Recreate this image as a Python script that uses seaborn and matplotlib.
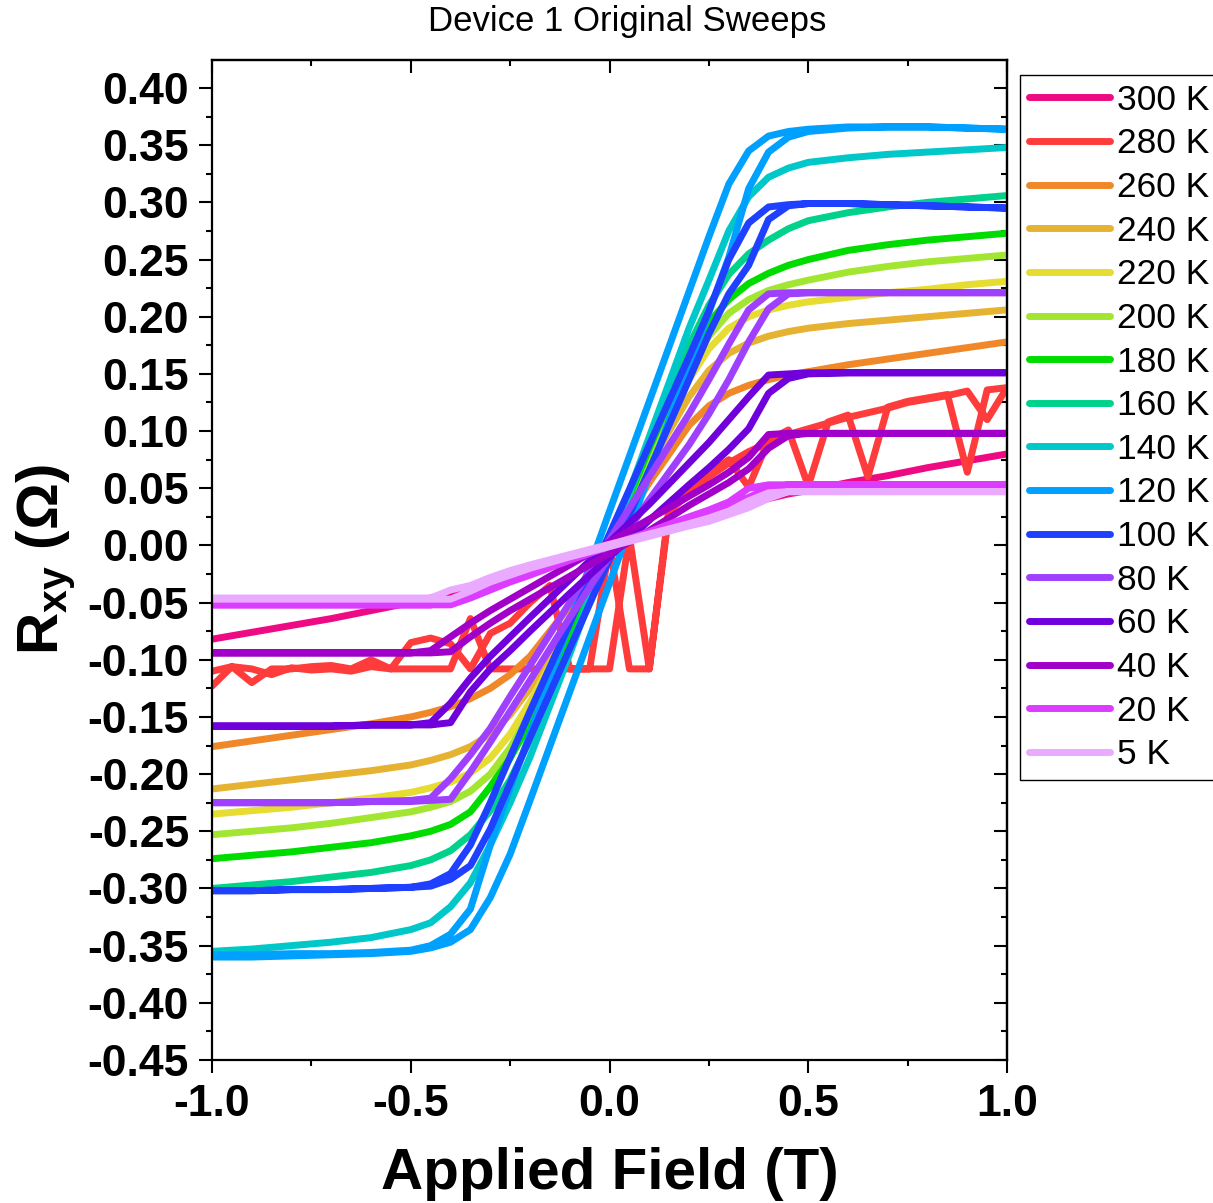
import matplotlib
matplotlib.use("Agg")
import matplotlib.pyplot as plt
import seaborn as sns
from matplotlib.ticker import MultipleLocator, FormatStrFormatter

# ---------------------------------------------------------------- data
# Applied field grid (T) shared by the smooth and hysteretic sweeps
field = [-1.0, -0.9, -0.8, -0.7, -0.6, -0.5, -0.45, -0.4, -0.35, -0.3, -0.25, -0.2, -0.1,
         0.0, 0.1, 0.2, 0.25, 0.3, 0.35, 0.4, 0.45, 0.5, 0.6, 0.7, 0.8, 0.9, 1.0]

# High-temperature sweeps (no visible hysteresis), Rxy in ohm
rxy_300 = [-0.082, -0.076, -0.070, -0.064, -0.057, -0.050, -0.046, -0.042, -0.038, -0.033, -0.028, -0.022, -0.011,
           0.000, 0.011, 0.022, 0.027, 0.032, 0.037, 0.041, 0.045, 0.048, 0.055, 0.061, 0.068, 0.074, 0.080]
rxy_260 = [-0.176, -0.171, -0.166, -0.161, -0.156, -0.150, -0.146, -0.141, -0.134, -0.125, -0.113, -0.097, -0.053,
           0.000, 0.055, 0.105, 0.122, 0.133, 0.140, 0.145, 0.149, 0.152, 0.158, 0.163, 0.168, 0.173, 0.178]
rxy_240 = [-0.213, -0.209, -0.205, -0.201, -0.197, -0.192, -0.188, -0.183, -0.176, -0.165, -0.148, -0.125, -0.068,
           0.000, 0.070, 0.130, 0.153, 0.168, 0.177, 0.183, 0.187, 0.190, 0.194, 0.197, 0.200, 0.203, 0.206]
rxy_220 = [-0.235, -0.232, -0.229, -0.225, -0.221, -0.216, -0.212, -0.207, -0.199, -0.186, -0.165, -0.137, -0.072,
           0.000, 0.075, 0.145, 0.172, 0.190, 0.200, 0.206, 0.210, 0.213, 0.217, 0.221, 0.224, 0.228, 0.231]
rxy_200 = [-0.253, -0.250, -0.247, -0.243, -0.238, -0.233, -0.229, -0.224, -0.215, -0.200, -0.177, -0.147, -0.077,
           0.000, 0.080, 0.155, 0.183, 0.203, 0.215, 0.223, 0.228, 0.232, 0.239, 0.244, 0.248, 0.251, 0.254]
rxy_180 = [-0.274, -0.271, -0.268, -0.264, -0.260, -0.254, -0.250, -0.244, -0.233, -0.211, -0.186, -0.155, -0.080,
           0.000, 0.085, 0.165, 0.195, 0.215, 0.229, 0.238, 0.245, 0.250, 0.258, 0.263, 0.267, 0.270, 0.273]
rxy_160 = [-0.300, -0.297, -0.294, -0.290, -0.286, -0.280, -0.275, -0.267, -0.253, -0.232, -0.205, -0.170, -0.090,
           0.000, 0.090, 0.175, 0.210, 0.237, 0.255, 0.267, 0.277, 0.284, 0.291, 0.296, 0.300, 0.303, 0.306]
rxy_140 = [-0.355, -0.353, -0.350, -0.347, -0.343, -0.336, -0.330, -0.316, -0.295, -0.262, -0.225, -0.185, -0.095,
           0.000, 0.095, 0.190, 0.232, 0.275, 0.305, 0.322, 0.330, 0.335, 0.339, 0.342, 0.344, 0.346, 0.348]

# Low-temperature sweeps: up sweep (-1 -> +1 T) and down sweep (+1 -> -1 T), both listed on `field`
rxy_120_up = [-0.360, -0.360, -0.359, -0.358, -0.357, -0.355, -0.352, -0.347, -0.336, -0.308, -0.270, -0.223, -0.128,
              -0.033, 0.062, 0.157, 0.204, 0.252, 0.312, 0.344, 0.357, 0.362, 0.365, 0.366, 0.366, 0.365, 0.364]
rxy_120_dn = [-0.358, -0.358, -0.357, -0.357, -0.356, -0.354, -0.350, -0.340, -0.318, -0.262, -0.212, -0.165, -0.067,
              0.030, 0.126, 0.222, 0.270, 0.316, 0.345, 0.358, 0.362, 0.364, 0.366, 0.366, 0.366, 0.365, 0.364]
rxy_100_up = [-0.302, -0.302, -0.301, -0.301, -0.300, -0.299, -0.298, -0.292, -0.280, -0.248, -0.208, -0.168, -0.090,
              -0.012, 0.066, 0.145, 0.185, 0.220, 0.245, 0.285, 0.297, 0.299, 0.299, 0.298, 0.297, 0.296, 0.295]
rxy_100_dn = [-0.302, -0.302, -0.301, -0.301, -0.300, -0.299, -0.296, -0.287, -0.262, -0.225, -0.185, -0.145, -0.068,
              0.010, 0.088, 0.165, 0.205, 0.250, 0.282, 0.296, 0.298, 0.299, 0.299, 0.298, 0.297, 0.296, 0.295]
rxy_80_up = [-0.225, -0.225, -0.225, -0.225, -0.224, -0.224, -0.223, -0.222, -0.198, -0.172, -0.145, -0.118, -0.063,
             -0.010, 0.040, 0.088, 0.115, 0.145, 0.178, 0.207, 0.220, 0.221, 0.221, 0.221, 0.221, 0.221, 0.221]
rxy_80_dn = [-0.225, -0.225, -0.225, -0.225, -0.224, -0.223, -0.221, -0.204, -0.183, -0.160, -0.132, -0.105, -0.050,
             0.005, 0.060, 0.115, 0.145, 0.176, 0.206, 0.220, 0.221, 0.221, 0.221, 0.221, 0.221, 0.221, 0.221]
rxy_60_up = [-0.158, -0.158, -0.158, -0.158, -0.157, -0.157, -0.157, -0.155, -0.128, -0.108, -0.092, -0.075, -0.042,
             -0.010, 0.022, 0.053, 0.068, 0.084, 0.102, 0.133, 0.146, 0.150, 0.151, 0.151, 0.151, 0.151, 0.151]
rxy_60_dn = [-0.158, -0.158, -0.158, -0.158, -0.157, -0.157, -0.155, -0.138, -0.116, -0.097, -0.080, -0.063, -0.030,
             0.003, 0.036, 0.072, 0.090, 0.110, 0.130, 0.149, 0.150, 0.151, 0.151, 0.151, 0.151, 0.151, 0.151]
rxy_40_up = [-0.094, -0.094, -0.094, -0.094, -0.094, -0.094, -0.094, -0.093, -0.080, -0.068, -0.057, -0.047, -0.027,
             -0.007, 0.013, 0.035, 0.045, 0.055, 0.067, 0.085, 0.096, 0.098, 0.098, 0.098, 0.098, 0.098, 0.098]
rxy_40_dn = [-0.094, -0.094, -0.094, -0.094, -0.094, -0.094, -0.092, -0.080, -0.068, -0.057, -0.047, -0.037, -0.017,
             0.003, 0.023, 0.043, 0.053, 0.064, 0.077, 0.097, 0.098, 0.098, 0.098, 0.098, 0.098, 0.098, 0.098]
rxy_20_up = [-0.052, -0.052, -0.052, -0.052, -0.052, -0.052, -0.052, -0.052, -0.046, -0.039, -0.032, -0.026, -0.013,
             -0.001, 0.011, 0.023, 0.029, 0.035, 0.042, 0.050, 0.053, 0.053, 0.053, 0.053, 0.053, 0.053, 0.053]
rxy_20_dn = [-0.052, -0.052, -0.052, -0.052, -0.052, -0.052, -0.052, -0.048, -0.042, -0.036, -0.030, -0.024, -0.012,
             0.000, 0.012, 0.025, 0.031, 0.038, 0.050, 0.053, 0.053, 0.053, 0.053, 0.053, 0.053, 0.053, 0.053]
rxy_5_up = [-0.047, -0.047, -0.047, -0.047, -0.047, -0.047, -0.047, -0.047, -0.040, -0.032, -0.026, -0.020, -0.010,
            -0.001, 0.008, 0.017, 0.021, 0.027, 0.033, 0.041, 0.047, 0.047, 0.047, 0.047, 0.047, 0.047, 0.047]
rxy_5_dn = [-0.046, -0.046, -0.046, -0.046, -0.046, -0.046, -0.046, -0.039, -0.035, -0.028, -0.022, -0.017, -0.008,
            0.001, 0.010, 0.019, 0.024, 0.030, 0.039, 0.046, 0.047, 0.047, 0.047, 0.047, 0.047, 0.047, 0.047]

# 280 K sweep (noisy, 0.05 T steps)
field_280_up = [-1.0, -0.95, -0.9, -0.85, -0.8, -0.75, -0.7, -0.65, -0.6, -0.55, -0.5, -0.45, -0.4, -0.35,
                -0.3, -0.25, -0.2, -0.15, -0.1, -0.05, 0.0, 0.05, 0.1, 0.15, 0.2, 0.25, 0.3, 0.35, 0.4,
                0.45, 0.5, 0.55, 0.6, 0.65, 0.7, 0.75, 0.8, 0.85, 0.9, 0.95, 1.0]
rxy_280_up = [-0.123, -0.106, -0.120, -0.108, -0.108, -0.106, -0.105, -0.108, -0.100, -0.108, -0.108, -0.108,
              -0.108, -0.064, -0.108, -0.108, -0.108, -0.108, -0.108, -0.108, -0.108, 0.008, -0.108, 0.035,
              0.050, 0.063, 0.075, 0.051, 0.092, 0.101, 0.052, 0.108, 0.114, 0.060, 0.121, 0.126, 0.129,
              0.132, 0.064, 0.136, 0.138]
field_280_dn = [1.0, 0.95, 0.9, 0.85, 0.8, 0.75, 0.7, 0.65, 0.6, 0.55, 0.5, 0.45, 0.4, 0.35, 0.3, 0.25,
                0.2, 0.15, 0.1, 0.05, 0.0, -0.05, -0.1, -0.15, -0.2, -0.25, -0.3, -0.35, -0.4, -0.45, -0.5,
                -0.55, -0.6, -0.65, -0.7, -0.75, -0.8, -0.85, -0.9, -0.95, -1.0]
rxy_280_dn = [0.138, 0.110, 0.135, 0.131, 0.128, 0.125, 0.120, 0.116, 0.112, 0.107, 0.102, 0.097, 0.090,
              0.082, 0.072, 0.060, 0.045, 0.030, -0.108, -0.108, 0.000, -0.108, -0.108, -0.035, -0.050,
              -0.068, -0.077, -0.108, -0.086, -0.081, -0.085, -0.108, -0.106, -0.110, -0.108, -0.109,
              -0.107, -0.113, -0.108, -0.106, -0.110]

temperatures = ["300 K", "280 K", "260 K", "240 K", "220 K", "200 K", "180 K", "160 K",
                "140 K", "120 K", "100 K", "80 K", "60 K", "40 K", "20 K", "5 K"]
colors = ["#EE0A82", "#FF3C3C", "#F0882A", "#E6B232", "#E6DC32", "#A2E632", "#00DC00", "#00D28C",
          "#00C8C8", "#00A0FF", "#2040FF", "#A040FF", "#7000DC", "#A000C8", "#DC3CFF", "#EAAAFF"]

# ---------------------------------------------------------------- figure
sns.set_theme(style="white")
plt.rcParams["font.family"] = ["Liberation Sans", "DejaVu Sans"]
plt.rcParams["mathtext.fontset"] = "custom"
plt.rcParams["mathtext.rm"] = "Liberation Sans"
plt.rcParams["mathtext.bf"] = "Liberation Sans:bold"
plt.rcParams["axes.unicode_minus"] = False
for key in ("text.color", "axes.labelcolor", "xtick.color", "ytick.color", "axes.edgecolor"):
    plt.rcParams[key] = "black"

fig = plt.figure(figsize=(12.13, 12.03), dpi=100)
ax = fig.add_axes([0.1748, 0.1189, 0.6554, 0.8312])


def loop(up, dn):
    """Concatenate up and down sweeps into one closed trace."""
    return field + field[::-1], up + dn[::-1]


traces = [
    (field, rxy_300),
    (field_280_up + field_280_dn, rxy_280_up + rxy_280_dn),
    (field, rxy_260),
    (field, rxy_240),
    (field, rxy_220),
    (field, rxy_200),
    (field, rxy_180),
    (field, rxy_160),
    (field, rxy_140),
    loop(rxy_120_up, rxy_120_dn),
    loop(rxy_100_up, rxy_100_dn),
    loop(rxy_80_up, rxy_80_dn),
    loop(rxy_60_up, rxy_60_dn),
    loop(rxy_40_up, rxy_40_dn),
    loop(rxy_20_up, rxy_20_dn),
    loop(rxy_5_up, rxy_5_dn),
]

handles = []
for (xs, ys), lab, col in zip(traces, temperatures, colors):
    sns.lineplot(x=xs, y=ys, sort=False, estimator=None, ax=ax, color=col, linewidth=5,
                 solid_capstyle="round", solid_joinstyle="round", legend=False)
    line = ax.lines[-1]
    line.set_label(lab)
    handles.append(line)

ax.set_xlim(-1.0, 1.0)
ax.set_ylim(-0.45, 0.4245)

for side in ax.spines.values():
    side.set_linewidth(1.6)
    side.set_color("black")

ax.xaxis.set_major_locator(MultipleLocator(0.5))
ax.xaxis.set_minor_locator(MultipleLocator(0.25))
ax.yaxis.set_major_locator(MultipleLocator(0.05))
ax.yaxis.set_minor_locator(MultipleLocator(0.025))
ax.xaxis.set_major_formatter(FormatStrFormatter("%.1f"))
ax.yaxis.set_major_formatter(FormatStrFormatter("%.2f"))
ax.tick_params(which="both", direction="out", bottom=True, left=True, top=False, right=False,
               width=1.5, color="black")
ax.tick_params(which="major", length=9.5)
ax.tick_params(which="minor", length=4.5)
ax.tick_params(axis="y", which="major", pad=7, labelsize=32)
ax.tick_params(axis="x", which="major", pad=8, labelsize=32)
for lbl in ax.get_xticklabels() + ax.get_yticklabels():
    lbl.set_fontweight("bold")

# inward mirror ticks on top and right
top = ax.secondary_xaxis("top")
top.xaxis.set_major_locator(MultipleLocator(0.5))
top.xaxis.set_minor_locator(MultipleLocator(0.25))
top.tick_params(which="both", direction="in", labeltop=False, width=1.5, color="black")
top.tick_params(which="major", length=9.5)
top.tick_params(which="minor", length=4.5)
top.spines["top"].set_linewidth(1.6)
right = ax.secondary_yaxis("right")
right.yaxis.set_major_locator(MultipleLocator(0.05))
right.yaxis.set_minor_locator(MultipleLocator(0.025))
right.tick_params(which="both", direction="in", labelright=False, width=1.5, color="black")
right.tick_params(which="major", length=9.5)
right.tick_params(which="minor", length=4.5)
right.spines["right"].set_linewidth(1.6)

ax.set_xlabel("Applied Field (T)", fontsize=42, fontweight="bold", labelpad=16)
ax.set_ylabel(r"$\mathbf{R_{xy}}$ (Ω)", fontsize=42, fontweight="bold", labelpad=8)

fig.text(0.517, 1 - 22 / 1203, "Device 1 Original Sweeps", ha="center", va="center", fontsize=25)

leg = ax.legend(handles=handles, loc="upper left", bbox_to_anchor=(1020 / 1213, 1 - 75 / 1203),
                bbox_transform=fig.transFigure, borderaxespad=0, frameon=True, fancybox=False,
                edgecolor="black", framealpha=1, fontsize=25.5, handlelength=2.3, handletextpad=0.2,
                labelspacing=0.30, borderpad=0.25)
leg.get_frame().set_linewidth(1.0)

fig.savefig("out.png", dpi=100)
